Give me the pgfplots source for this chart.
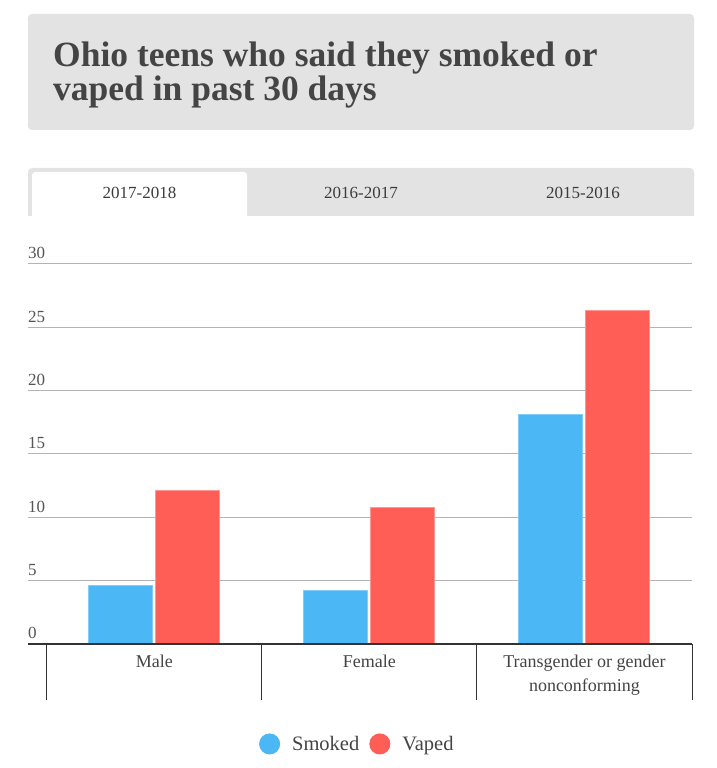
\documentclass[border=0pt]{standalone}
\usepackage{fontspec}
\setmainfont{Liberation Serif}
\usepackage{pgfplots}
\pgfplotsset{compat=1.18}
\definecolor{smk}{RGB}{75,184,245}
\definecolor{smkb}{RGB}{130,205,248}
\definecolor{vap}{RGB}{255,94,87}
\definecolor{vapb}{RGB}{255,150,145}
\definecolor{boxbg}{RGB}{227,227,227}
\definecolor{titlec}{RGB}{68,68,68}
\definecolor{tabc}{RGB}{60,60,60}
\definecolor{tickc}{RGB}{85,85,85}
\definecolor{labc}{RGB}{68,68,68}
\definecolor{gridc}{RGB}{180,180,180}
\definecolor{axisc}{RGB}{51,51,51}
\begin{document}
\begin{tikzpicture}
\begin{scope}[x=1pt,y=1pt]
\fill[white] (0,0) rectangle (716,768);
% title box
\fill[boxbg, rounded corners=4pt] (28,638) rectangle (694,754);
\node[anchor=base west, text=titlec, inner sep=0pt, font=\fontsize{35.5}{32}\selectfont\bfseries] at (53,701) {Ohio teens who said they smoked or};
\node[anchor=base west, text=titlec, inner sep=0pt, font=\fontsize{35.5}{32}\selectfont\bfseries] at (53,667) {vaped in past 30 days};
% tabs
\fill[boxbg] (28,552) [rounded corners=4pt] -- (28,600) -- (694,600) [sharp corners] -- (694,552) -- cycle;
\fill[white] (32,552) [rounded corners=3pt] -- (32,596) -- (247,596) [sharp corners] -- (247,552) -- cycle;
\node[anchor=base, text=tabc, inner sep=0pt, font=\fontsize{17}{20}\selectfont] at (139.5,569) {2017-2018};
\node[anchor=base, text=tabc, inner sep=0pt, font=\fontsize{17}{20}\selectfont] at (361,569) {2016-2017};
\node[anchor=base, text=tabc, inner sep=0pt, font=\fontsize{17}{20}\selectfont] at (583,569) {2015-2016};
\end{scope}
\begin{axis}[
  at={(28pt,124pt)}, anchor=south west, scale only axis,
  width=664pt, height=380pt,
  xmin=-0.588, xmax=2.5, ymin=0, ymax=30,
  ybar, bar width=64pt,
  ytick={0,5,...,30},
  xtick={0,1,2},
  xticklabels={Male,Female,{Transgender or gender\\nonconforming}},
  ymajorgrids, major grid style={color=gridc, line width=1pt},
  axis line style={draw=none},
  major tick length=0pt, tick style={draw=none},
  clip=false,
  /pgf/number format/assume math mode=true,
  yticklabel style={anchor=base west, inner sep=0pt, yshift=5pt, font=\fontsize{17}{18}\selectfont, text=tickc},
  xticklabel style={anchor=north, align=center, font=\fontsize{18}{24}\selectfont, text=labc, yshift=-7pt},
  legend style={at={(axis description cs:0.496,-0.263)}, anchor=center, draw=none, fill=none,
    legend columns=2, font=\fontsize{20.5}{22}\selectfont, text=labc,
    /tikz/every odd column/.append style={column sep=10pt},
    /tikz/every even column/.append style={column sep=8pt}},
]
\addplot[fill=smk, draw=smkb, line width=1pt, bar shift=-33.5pt,
  legend image code/.code={\fill[smk] (0pt,0pt) circle (10pt);}]
  coordinates {(0,4.6) (1,4.2) (2,18.1)};
\addlegendentry{Smoked}
\addplot[fill=vap, draw=vapb, line width=1pt, bar shift=33.5pt,
  legend image code/.code={\fill[vap] (0pt,0pt) circle (10pt);}]
  coordinates {(0,12.1) (1,10.8) (2,26.3)};
\addlegendentry{Vaped}
\draw[line width=2pt, color=axisc] (axis cs:-0.588,0) -- (axis cs:2.5,0);
\draw[line width=1pt, color=axisc] (axis cs:-0.5,0) -- ++(0pt,-56pt);
\draw[line width=1pt, color=axisc] (axis cs:0.5,0) -- ++(0pt,-56pt);
\draw[line width=1pt, color=axisc] (axis cs:1.5,0) -- ++(0pt,-56pt);
\draw[line width=1pt, color=axisc] (axis cs:2.5,0) -- ++(0pt,-56pt);
\end{axis}
\end{tikzpicture}
\end{document}
